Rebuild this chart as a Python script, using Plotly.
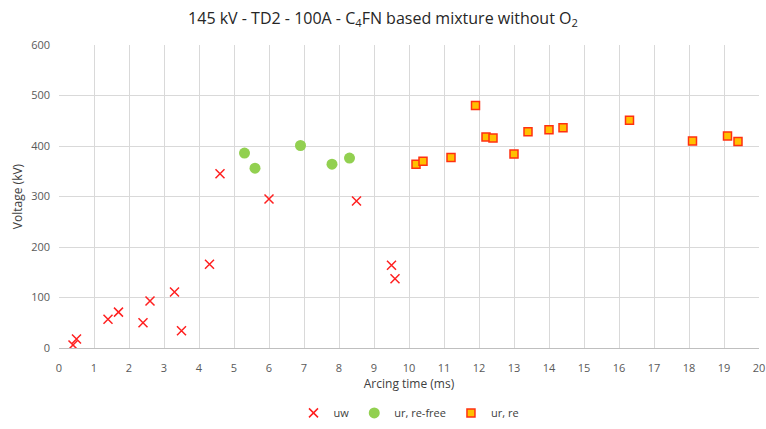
import plotly.graph_objects as go

uw_x = [0.4, 0.5, 1.4, 1.7, 2.4, 2.6, 3.3, 3.5, 4.3, 4.6, 6.0, 8.5, 9.5, 9.6]
uw_y = [6, 18, 57, 71, 50, 93, 111, 34, 166, 345, 295, 291, 164, 137]

free_x = [5.3, 5.6, 6.9, 7.8, 8.3]
free_y = [386, 356, 401, 364, 376]

re_x = [10.2, 10.4, 11.2, 11.9, 12.2, 12.4, 13.0, 13.4, 14.0, 14.4, 16.3, 18.1, 19.1, 19.4]
re_y = [364, 370, 377, 480, 418, 416, 384, 428, 432, 436, 451, 410, 420, 409]

fig = go.Figure()
fig.add_trace(go.Scatter(x=uw_x, y=uw_y, mode="markers", name="uw",
                         marker=dict(symbol="x-thin", size=9, line=dict(color="#FF2020", width=1.5), color="#FF2020")))
fig.add_trace(go.Scatter(x=free_x, y=free_y, mode="markers", name="ur, re-free",
                         marker=dict(symbol="circle", size=11, color="#92D050", line=dict(width=0))))
fig.add_trace(go.Scatter(x=re_x, y=re_y, mode="markers", name="ur, re",
                         marker=dict(symbol="square", size=8, color="#FFC000", line=dict(color="#FF3010", width=1.5))))

fig.update_layout(
    width=766, height=429,
    margin=dict(l=59, r=7, t=45, b=81, autoexpand=False),
    paper_bgcolor="white", plot_bgcolor="white",
    font=dict(family="Open Sans, sans-serif", color="#595959", size=11),
    title=dict(text="145 kV - TD2 - 100A - C<sub>4</sub>FN based mixture without O<sub>2</sub>",
               x=0.5, xanchor="center", y=0.958, yanchor="middle",
               font=dict(size=16, color="#262626")),
    showlegend=True,
    legend=dict(orientation="h", x=0.5, xanchor="center", y=-0.262, yanchor="bottom",
                font=dict(size=11, color="#404040"), itemwidth=30, tracegroupgap=0),
)
fig.update_xaxes(range=[0, 20], dtick=1, tick0=0, showgrid=True, gridcolor="#D9D9D9", gridwidth=1,
                 zeroline=False, showline=True, linecolor="#BFBFBF", linewidth=1,
                 ticks="", ticklabelstandoff=10, tickfont=dict(size=11, color="#595959"),
                 title=dict(text="Arcing time (ms)", font=dict(size=12, color="#404040"), standoff=5))
fig.update_yaxes(range=[0, 600], dtick=100, showgrid=True, gridcolor="#D9D9D9", gridwidth=1,
                 zeroline=False, showline=False, ticks="", ticklabelstandoff=8,
                 tickfont=dict(size=11, color="#595959"),
                 title=dict(text="Voltage (kV)", font=dict(size=12, color="#404040"), standoff=5))

fig.write_html("out.html")
